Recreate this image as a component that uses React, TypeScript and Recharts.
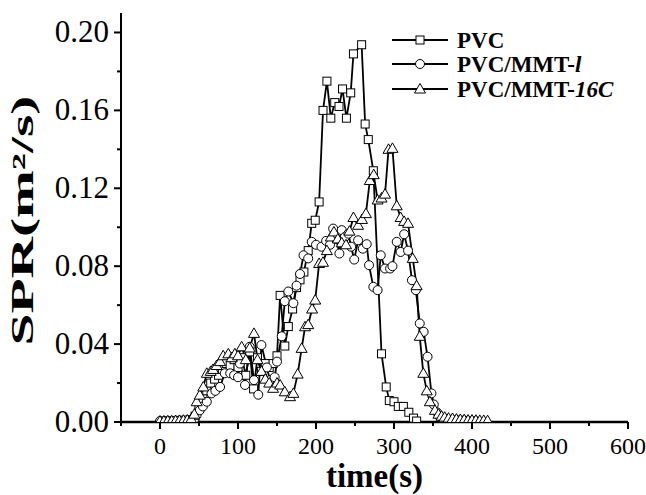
import React from 'react';
import { LineChart, Line, XAxis, YAxis } from 'recharts';

// PVC (squares)
const pvcTime = [40, 45, 50, 55, 60, 65, 70, 75, 80, 85, 90, 95, 100, 105, 110, 115, 120, 125, 130, 135, 140, 145, 150, 154, 160, 164.5, 170, 175, 179.5, 184.5, 190, 194.5, 199, 204, 209, 214, 219, 224, 229.5, 234, 239, 244.5, 248, 258.5, 263, 267, 273.5, 284, 290, 294, 300, 305.5, 312, 319, 325, 329];
const pvcSpr = [0.001, 0.003, 0.007, 0.012, 0.016, 0.02, 0.022, 0.024, 0.027, 0.03, 0.029, 0.032, 0.028, 0.033, 0.024, 0.036, 0.017, 0.033, 0.026, 0.03, 0.028, 0.03, 0.034, 0.065, 0.039, 0.049, 0.058, 0.069, 0.073, 0.077, 0.088, 0.102, 0.1036, 0.113, 0.16, 0.175, 0.156, 0.164, 0.162, 0.171, 0.156, 0.169, 0.189, 0.1937, 0.153, 0.145, 0.129, 0.035, 0.018, 0.011, 0.0104, 0.008, 0.008, 0.005, 0.002, 0.0005];

// PVC/MMT-l (circles)
const mmtLTime = [0, 5, 10, 15, 20, 25, 30, 35, 40, 44, 47, 51, 55, 60, 66, 71, 77, 83, 90, 95, 100, 102.5, 109, 115, 120.5, 126, 130, 137, 141, 147, 150, 156, 160, 164.5, 171, 175, 179.5, 184, 190, 194.5, 200, 207, 213, 218, 222, 226, 230, 233, 237, 241.5, 245, 249, 254, 260, 265, 268, 273.5, 279, 283, 288.5, 295, 298, 303.5, 308.5, 313, 318, 323, 328, 333, 338, 343, 348, 351, 355, 358, 362, 366, 370, 375, 380, 385, 390, 395, 400, 405];
const mmtLSpr = [0.0005, 0.0005, 0.0006, 0.0006, 0.0007, 0.0008, 0.0008, 0.001, 0.0012, 0.0015, 0.0036, 0.006, 0.008, 0.0104, 0.0147, 0.016, 0.018, 0.025, 0.025, 0.024, 0.023, 0.03, 0.019, 0.0386, 0.0215, 0.014, 0.0395, 0.028, 0.0215, 0.023, 0.031, 0.044, 0.062, 0.067, 0.061, 0.07, 0.076, 0.0856, 0.084, 0.0925, 0.091, 0.09, 0.093, 0.091, 0.0993, 0.094, 0.0865, 0.0985, 0.095, 0.0967, 0.09, 0.0834, 0.0933, 0.089, 0.0913, 0.0805, 0.0694, 0.0677, 0.0856, 0.0788, 0.0788, 0.08, 0.0925, 0.0873, 0.0964, 0.088, 0.0728, 0.0677, 0.0506, 0.0463, 0.0335, 0.0147, 0.009, 0.005, 0.003, 0.002, 0.0015, 0.0012, 0.001, 0.001, 0.0008, 0.0008, 0.0006, 0.0005, 0.0005];

// PVC/MMT-16C (triangles)
const mmt16Time = [0, 5, 10, 15, 20, 25, 30, 35, 40, 44, 47, 51, 55.5, 60, 65, 68, 72.6, 77, 81, 87.6, 92, 96, 100, 104.7, 110, 115, 120.5, 125, 130, 135, 140, 145, 150, 154, 160, 166.7, 171, 176.5, 181.6, 186, 190, 195, 199, 204, 209, 214, 219, 223, 228, 233, 238.5, 243, 248, 254, 259, 264, 269, 274, 279, 284, 288.5, 293, 298, 303.5, 308.5, 313, 318, 324, 329, 333, 337.6, 342, 346, 352.5, 357, 361, 365, 370, 375, 380, 385, 390, 395, 400, 405, 410, 415, 420];
const mmt16Spr = [0.0005, 0.0005, 0.0006, 0.0006, 0.0007, 0.0008, 0.0009, 0.001, 0.0015, 0.004, 0.0104, 0.0138, 0.018, 0.025, 0.026, 0.027, 0.029, 0.031, 0.034, 0.035, 0.033, 0.035, 0.034, 0.0386, 0.032, 0.038, 0.0455, 0.032, 0.026, 0.022, 0.02, 0.0173, 0.02, 0.019, 0.0155, 0.013, 0.0147, 0.0246, 0.0378, 0.0489, 0.05, 0.058, 0.0626, 0.0814, 0.082, 0.088, 0.095, 0.0976, 0.094, 0.092, 0.091, 0.098, 0.105, 0.101, 0.104, 0.107, 0.124, 0.127, 0.114, 0.115, 0.117, 0.14, 0.1405, 0.111, 0.105, 0.103, 0.102, 0.084, 0.07, 0.044, 0.025, 0.016, 0.0104, 0.006, 0.004, 0.003, 0.0025, 0.002, 0.0018, 0.0015, 0.0013, 0.0012, 0.001, 0.001, 0.0009, 0.0008, 0.0008, 0.0007];

const xTicks = [-50, 0, 50, 100, 150, 200, 250, 300, 350, 400, 450, 500, 550, 600];
const yTicks = [0, 0.02, 0.04, 0.06, 0.08, 0.1, 0.12, 0.14, 0.16, 0.18, 0.2];
const seriesNames = ['PVC', 'PVC/MMT-l', 'PVC/MMT-16C'];

const toRows = (ts: number[], vs: number[]) => ts.map((t, i) => ({ t, v: vs[i] }));
const pvcData = toRows(pvcTime, pvcSpr);
const mmtLData = toRows(mmtLTime, mmtLSpr);
const mmt16Data = toRows(mmt16Time, mmt16Spr);

const FONT = '"Liberation Serif", "Times New Roman", serif';

const Square = (p: any) => {
  if (p.cx == null || p.cy == null) return <g key={`s-${p.index}`} />;
  return <rect key={`s-${p.index}`} x={p.cx - 4} y={p.cy - 4} width={8} height={8} fill="#fff" stroke="#000" strokeWidth={1} />;
};
const Circ = (p: any) => {
  if (p.cx == null || p.cy == null) return <g key={`c-${p.index}`} />;
  return <circle key={`c-${p.index}`} cx={p.cx} cy={p.cy} r={4.5} fill="#fff" stroke="#000" strokeWidth={1} />;
};
const Tri = (p: any) => {
  if (p.cx == null || p.cy == null) return <g key={`t-${p.index}`} />;
  const { cx, cy } = p;
  return <polygon key={`t-${p.index}`} points={`${cx},${cy - 5.5} ${cx - 5.5},${cy + 4} ${cx + 5.5},${cy + 4}`} fill="#fff" stroke="#000" strokeWidth={1} />;
};

const XTick = (props: any) => {
  const { x, y, payload } = props;
  const v = payload.value;
  const major = v % 100 === 0;
  return (
    <g>
      <line x1={x} x2={x} y1={y} y2={y + (major ? 7 : 4)} stroke="#000" strokeWidth={2} />
      {major && (
        <text x={x} y={y + 32} textAnchor="middle" fontFamily={FONT} fontSize={24} fill="#000">
          {String(v)}
        </text>
      )}
    </g>
  );
};

const YTick = (props: any) => {
  const { x, y, payload } = props;
  const v = payload.value;
  const major = Math.round(v * 100) % 4 === 0;
  return (
    <g>
      <line x1={x} x2={x - (major ? 7 : 4)} y1={y} y2={y} stroke="#000" strokeWidth={2} />
      {major && (
        <text x={x - 12} y={y + 10} textAnchor="end" fontFamily={FONT} fontSize={31} fill="#000">
          {v.toFixed(2)}
        </text>
      )}
    </g>
  );
};

const YTitle = (props: any) => {
  const vb = props.viewBox || { x: 0, y: 13, width: 121, height: 409 };
  const cy = vb.y + vb.height / 2 + 3;
  const cx = 33;
  return (
    <text x={cx} y={cy} transform={`rotate(-90 ${cx} ${cy})`} textAnchor="middle" fontFamily={FONT} fontWeight="bold" fontSize={31} textLength={250} lengthAdjust="spacingAndGlyphs" fill="#000">
      SPR(m²/s)
    </text>
  );
};

const XTitle = (props: any) => {
  const vb = props.viewBox || { x: 121, y: 422, width: 507, height: 73 };
  const cx = vb.x + vb.width / 2;
  return (
    <text x={cx} y={487} textAnchor="middle" fontFamily={FONT} fontWeight="bold" fontSize={33} fill="#000">
      time(s)
    </text>
  );
};

const LegendBox = () => {
  const rows = [40, 64, 89];
  const marks = [
    (cx: number, cy: number) => <rect x={cx - 4} y={cy - 4} width={8} height={8} fill="#fff" stroke="#000" strokeWidth={1} />,
    (cx: number, cy: number) => <circle cx={cx} cy={cy} r={4.5} fill="#fff" stroke="#000" strokeWidth={1} />,
    (cx: number, cy: number) => <polygon points={`${cx},${cy - 5.5} ${cx - 5.5},${cy + 4} ${cx + 5.5},${cy + 4}`} fill="#fff" stroke="#000" strokeWidth={1} />,
  ];
  return (
    <svg width={646} height={495} style={{ position: 'absolute', left: 0, top: 0, pointerEvents: 'none' }}>
      {rows.map((ry, i) => (
        <g key={i}>
          <line x1={392} x2={448} y1={ry} y2={ry} stroke="#000" strokeWidth={1.8} />
          {marks[i](420, ry)}
          <text x={457} y={ry + 8} fontFamily={FONT} fontWeight="bold" fontSize={23} fill="#000">
            {i === 0 && seriesNames[0]}
            {i === 1 && (<>{seriesNames[1].slice(0, 8)}<tspan fontStyle="italic">{seriesNames[1].slice(8)}</tspan></>)}
            {i === 2 && (<>{seriesNames[2].slice(0, 8)}<tspan fontStyle="italic">{seriesNames[2].slice(8)}</tspan></>)}
          </text>
        </g>
      ))}
    </svg>
  );
};

export default function App() {
  return (
    <div style={{ position: 'absolute', left: 0, top: 0, width: 646, height: 495, background: '#fff' }}>
      <LineChart width={646} height={495} margin={{ top: 13, right: 18, bottom: 0, left: 0 }}>
        <XAxis
          dataKey="t"
          type="number"
          domain={[-50, 600]}
          ticks={xTicks}
          interval={0}
          allowDataOverflow
          height={73}
          tickSize={0}
          tickMargin={0}
          tickLine={false}
          axisLine={{ stroke: '#000', strokeWidth: 2.5 }}
          tick={<XTick />}
          label={<XTitle />}
        />
        <XAxis xAxisId="top" orientation="top" type="number" domain={[-50, 600]} height={0} tick={false} tickLine={false} axisLine={{ stroke: '#000', strokeWidth: 2 }} />
        <YAxis
          type="number"
          domain={[0, 0.21]}
          ticks={yTicks}
          interval={0}
          allowDataOverflow
          width={121}
          tickSize={0}
          tickMargin={0}
          tickLine={false}
          axisLine={{ stroke: '#000', strokeWidth: 2 }}
          tick={<YTick />}
          label={<YTitle />}
        />
        <YAxis yAxisId="right" orientation="right" type="number" domain={[0, 0.21]} width={0} tick={false} tickLine={false} axisLine={{ stroke: '#000', strokeWidth: 2 }} />
        <Line data={pvcData} dataKey="v" name={seriesNames[0]} stroke="#000" strokeWidth={1.8} dot={Square} activeDot={false} isAnimationActive={false} />
        <Line data={mmtLData} dataKey="v" name={seriesNames[1]} stroke="#000" strokeWidth={1.8} dot={Circ} activeDot={false} isAnimationActive={false} />
        <Line data={mmt16Data} dataKey="v" name={seriesNames[2]} stroke="#000" strokeWidth={1.8} dot={Tri} activeDot={false} isAnimationActive={false} />
      </LineChart>
      <LegendBox />
    </div>
  );
}
